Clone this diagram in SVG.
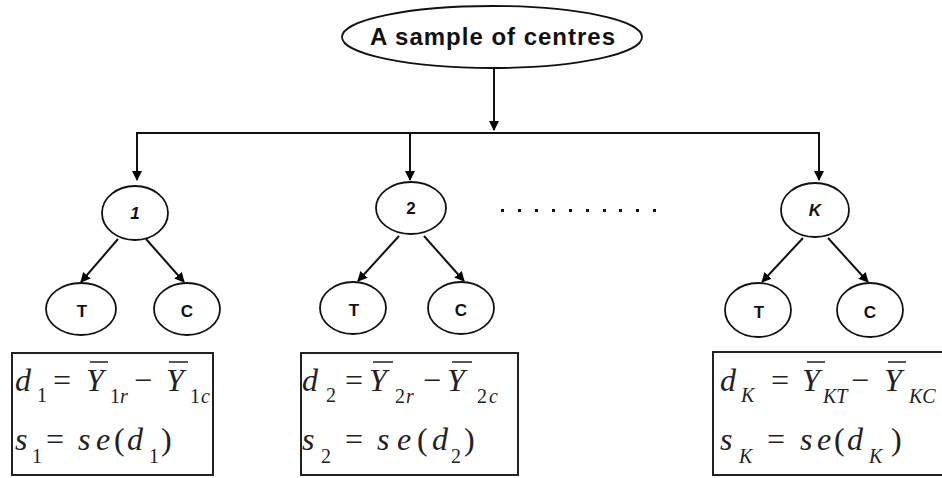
<svg xmlns="http://www.w3.org/2000/svg" width="942" height="478" viewBox="0 0 942 478">
<defs>
<marker id="ah" markerWidth="10" markerHeight="10" refX="9" refY="5" orient="auto" markerUnits="userSpaceOnUse">
<path d="M0,0 L10,5 L0,10 Z" fill="#000"/>
</marker>
<style>
.node{fill:#fff;stroke:#111;stroke-width:1.8}
.box{fill:#fff;stroke:#222;stroke-width:2}
.lbl{font-family:"Liberation Sans",Arial,sans-serif;font-weight:bold;font-size:17px;fill:#111;text-anchor:middle}
.conn{fill:none;stroke:#111;stroke-width:2}
.m{font-family:"Liberation Serif","Times New Roman",serif;font-size:32px;fill:#222}
.i{font-style:italic}
.s{font-size:20px}
.ol{stroke:#222;stroke-width:1.5}
</style>
</defs>
<rect width="942" height="478" fill="#fff"/>
<g id="connectors">
<line class="conn" x1="494" y1="68" x2="494" y2="130" marker-end="url(#ah)"/>
<line class="conn" x1="137" y1="133" x2="820" y2="133"/>
<line class="conn" x1="137" y1="132" x2="137" y2="180" marker-end="url(#ah)"/>
<line class="conn" x1="410" y1="133" x2="410" y2="180" marker-end="url(#ah)"/>
<line class="conn" x1="819" y1="132" x2="819" y2="180" marker-end="url(#ah)"/>
<line class="conn" x1="118" y1="239" x2="81" y2="282" marker-end="url(#ah)"/>
<line class="conn" x1="146" y1="239" x2="184" y2="282" marker-end="url(#ah)"/>
<line class="conn" x1="399" y1="236" x2="358" y2="281" marker-end="url(#ah)"/>
<line class="conn" x1="424" y1="236" x2="464" y2="281" marker-end="url(#ah)"/>
<line class="conn" x1="803" y1="238" x2="762" y2="282" marker-end="url(#ah)"/>
<line class="conn" x1="828" y1="238" x2="868" y2="282" marker-end="url(#ah)"/>
</g>
<g id="root">
<ellipse class="node" cx="492" cy="37" rx="150" ry="31"/>
<text x="370" y="45" font-family="Liberation Sans,Arial,sans-serif" font-weight="bold" font-size="24" fill="#111" textLength="245" lengthAdjust="spacing">A sample of centres</text>
</g>
<g id="centre1">
<ellipse class="node" cx="135" cy="213" rx="33" ry="27"/>
<text class="lbl" x="135" y="219" font-style="italic">1</text>
</g>
<g id="centre2">
<ellipse class="node" cx="411" cy="208" rx="35" ry="26"/>
<text class="lbl" x="411" y="214">2</text>
</g>
<g id="centreK">
<ellipse class="node" cx="815" cy="210" rx="34" ry="27"/>
<text class="lbl" x="815" y="216" font-style="italic">K</text>
</g>
<g id="dots" fill="#111">
<rect x="501" y="209" width="3" height="3"/><rect x="518" y="209" width="3" height="3"/><rect x="535" y="209" width="3" height="3"/><rect x="552" y="209" width="3" height="3"/><rect x="569" y="209" width="3" height="3"/><rect x="586" y="209" width="3" height="3"/><rect x="603" y="209" width="3" height="3"/><rect x="619" y="209" width="3" height="3"/><rect x="636" y="209" width="3" height="3"/><rect x="653" y="209" width="3" height="3"/>
</g>
<g id="T1"><ellipse class="node" cx="81" cy="309" rx="35" ry="26"/><text class="lbl" x="82" y="317">T</text></g>
<g id="C1"><ellipse class="node" cx="187" cy="309" rx="33" ry="26"/><text class="lbl" x="187" y="317">C</text></g>
<g id="T2"><ellipse class="node" cx="353" cy="308" rx="33" ry="26"/><text class="lbl" x="354" y="316">T</text></g>
<g id="C2"><ellipse class="node" cx="461" cy="308" rx="33" ry="26"/><text class="lbl" x="461" y="316">C</text></g>
<g id="TK"><ellipse class="node" cx="758" cy="310" rx="33" ry="27"/><text class="lbl" x="759" y="318">T</text></g>
<g id="CK"><ellipse class="node" cx="870" cy="310" rx="33" ry="27"/><text class="lbl" x="870" y="318">C</text></g>
<g id="box1">
<rect class="box" x="12" y="353" width="201" height="122"/>
<text class="m"><tspan class="i" x="15" y="391">d</tspan><tspan class="s" x="37" y="402">1</tspan><tspan x="53" y="391">=</tspan><tspan class="i" x="86" y="391">Y</tspan><tspan class="s" x="110" y="403">1</tspan><tspan class="s i" x="120" y="403">r</tspan><tspan x="134" y="391">−</tspan><tspan class="i" x="166" y="391">Y</tspan><tspan class="s" x="190" y="403">1</tspan><tspan class="s i" x="201" y="403">c</tspan></text>
<line class="ol" x1="90" y1="362" x2="108" y2="362"/><line class="ol" x1="169" y1="362" x2="188" y2="362"/>
<text class="m"><tspan class="i" x="15" y="450">s</tspan><tspan class="s" x="32" y="463">1</tspan><tspan x="46" y="450">=</tspan><tspan class="i" x="78" y="450">s</tspan><tspan class="i" x="96" y="450">e</tspan><tspan x="114" y="450">(</tspan><tspan class="i" x="127" y="450">d</tspan><tspan class="s" x="149" y="463">1</tspan><tspan x="161" y="450">)</tspan></text>
</g>
<g id="box2">
<rect class="box" x="301" y="353" width="217" height="122"/>
<text class="m"><tspan class="i" x="302" y="391">d</tspan><tspan class="s" x="326" y="402">2</tspan><tspan x="345" y="391">=</tspan><tspan class="i" x="369" y="391">Y</tspan><tspan class="s" x="395" y="403">2</tspan><tspan class="s i" x="406" y="403">r</tspan><tspan x="423" y="391">−</tspan><tspan class="i" x="447" y="391">Y</tspan><tspan class="s" x="477" y="403">2</tspan><tspan class="s i" x="489" y="403">c</tspan></text>
<line class="ol" x1="373" y1="362" x2="393" y2="362"/><line class="ol" x1="452" y1="362" x2="472" y2="362"/>
<text class="m"><tspan class="i" x="302" y="450">s</tspan><tspan class="s" x="321" y="463">2</tspan><tspan x="345" y="450">=</tspan><tspan class="i" x="377" y="450">s</tspan><tspan class="i" x="397" y="450">e</tspan><tspan x="417" y="450">(</tspan><tspan class="i" x="432" y="450">d</tspan><tspan class="s" x="451" y="463">2</tspan><tspan x="464" y="450">)</tspan></text>
</g>
<g id="boxK">
<rect class="box" x="713" y="352" width="240" height="123"/>
<text class="m"><tspan class="i" x="720" y="391">d</tspan><tspan class="s i" x="741" y="402">K</tspan><tspan x="771" y="391">=</tspan><tspan class="i" x="802" y="391">Y</tspan><tspan class="s i" x="823" y="403">KT</tspan><tspan x="851" y="391">−</tspan><tspan class="i" x="884" y="391">Y</tspan><tspan class="s i" x="909" y="403">KC</tspan></text>
<line class="ol" x1="807" y1="362" x2="825" y2="362"/><line class="ol" x1="888" y1="362" x2="906" y2="362"/>
<text class="m"><tspan class="i" x="720" y="450">s</tspan><tspan class="s i" x="739" y="463">K</tspan><tspan x="767" y="450">=</tspan><tspan class="i" x="800" y="450">s</tspan><tspan class="i" x="817" y="450">e</tspan><tspan x="834" y="450">(</tspan><tspan class="i" x="847" y="450">d</tspan><tspan class="s i" x="869" y="463">K</tspan><tspan x="891" y="450">)</tspan></text>
</g>
</svg>
